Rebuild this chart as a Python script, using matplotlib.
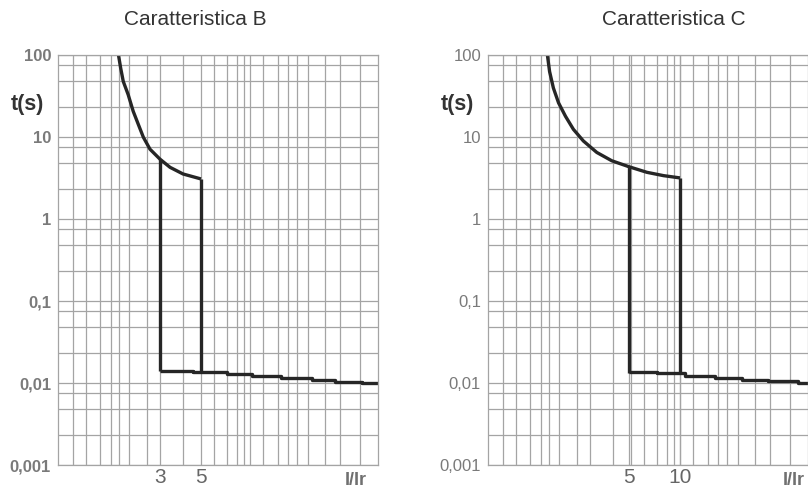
"""Tripping curves of MCBs, characteristic B and C (time vs I/Ir, log-log paper)."""
import matplotlib
matplotlib.use("Agg")
import matplotlib.pyplot as plt
import numpy as np
from matplotlib.ticker import NullFormatter

plt.rcParams["font.family"] = ["Liberation Sans", "DejaVu Sans"]

# --- data ----------------------------------------------------------------
# characteristic B: thermal curve down to the magnetic band 3..5 x Ir
B_CURVE_I = [1.79, 1.84, 1.90, 2.02, 2.15, 2.29, 2.44, 2.65, 3.0, 3.40, 4.0, 5.0]
B_CURVE_T = [100, 69.0, 47.6, 32.8, 20.6, 14.3, 9.93, 7.10, 5.37, 4.27, 3.54, 3.08]
B_LOW_I, B_HIGH_I = 3, 5
B_LOW_T = [5.37, 0.0142]     # vertical at 3 x Ir
B_HIGH_T = [3.08, 0.0137]    # vertical at 5 x Ir
B_FLOOR_I = [3, 4.55, 6.89, 9.38, 13.6, 19.8, 26.5, 36.9, 45.3]
B_FLOOR_T = [0.0142, 0.0137, 0.0130, 0.0122, 0.0115, 0.0109, 0.0104, 0.0100, 0.0100]

# characteristic C: magnetic band 5..10 x Ir
C_CURVE_I = [1.65, 1.70, 1.79, 1.92, 2.11, 2.35, 2.69, 3.23, 3.96, 5.0, 6.38, 7.99, 10.0]
C_CURVE_T = [100, 62.8, 39.6, 26.1, 17.9, 12.4, 8.95, 6.48, 5.13, 4.34, 3.71, 3.38, 3.17]
C_LOW_I, C_HIGH_I = 5, 10
C_LOW_T = [4.34, 0.0132]
C_HIGH_T = [3.17, 0.0127]
C_FLOOR_I = [5.0, 7.33, 10.7, 16.1, 23.2, 33.3, 50.0, 57.0]
C_FLOOR_T = [0.0135, 0.0131, 0.0123, 0.0115, 0.0110, 0.0105, 0.0100, 0.0100]

Y_TICKS = [100, 10, 1, 0.1, 0.01, 0.001]
Y_LABELS = ["100", "10", "1", "0,1", "0,01", "0,001"]

# printed paper: vertical rulings (in B-panel I/Ir units) and per-decade rulings
PAPER_X = [1.02, 1.19, 1.42, 1.63, 1.80, 2.04, 2.55, 3.0, 3.99, 5.0, 5.87, 6.9,
           7.82, 8.5, 9.18, 10.8, 13.0, 14.8, 16.5, 18.9, 23.4, 28.2, 36.2]
PAPER_Y_STEPS = [2.3, 4.8, 7.5]

B_XLIM = (0.843, 45.3)
C_XLIM = (0.736, 57.0)

GRID = "#a4a4a4"
INK = "#262626"
LABEL = "#7a7a7a"


def paper_rulings(xlim):
    """Same printed rulings, re-expressed in the panel's own I/Ir scale."""
    lo, hi = np.log10(B_XLIM)
    frac = (np.log10(PAPER_X) - lo) / (hi - lo)
    a, b = np.log10(xlim)
    return 10 ** (a + frac * (b - a))


def draw_panel(ax, title, title_x, unit_x, ylab_weight, xlim, curve, low, high,
               floor, xticks):
    ax.set_xscale("log")
    ax.set_yscale("log")
    ax.set_xlim(*xlim)
    ax.set_ylim(0.001, 100)

    minor_y = [s * 10.0 ** e for e in range(-3, 2) for s in PAPER_Y_STEPS]
    ax.set_xticks(paper_rulings(xlim), minor=True)
    ax.set_yticks(minor_y, minor=True)
    ax.xaxis.set_minor_formatter(NullFormatter())
    ax.yaxis.set_minor_formatter(NullFormatter())
    ax.set_xticks(xticks)
    ax.set_xticklabels([str(v) for v in xticks])
    ax.set_yticks(Y_TICKS)
    ax.set_yticklabels(Y_LABELS)
    ax.tick_params(which="both", length=0)
    ax.tick_params(axis="y", pad=5, labelsize=12, labelcolor=LABEL)
    ax.tick_params(axis="x", pad=2, labelsize=15, labelcolor="#666666")
    for lab in ax.get_yticklabels():
        lab.set_fontweight(ylab_weight)
    ax.grid(True, which="both", color=GRID, lw=0.9)
    ax.set_axisbelow(True)
    for sp in ax.spines.values():
        sp.set_color(GRID)
        sp.set_linewidth(0.9)

    kw = dict(color=INK, lw=2.4, solid_capstyle="butt", solid_joinstyle="round")
    ax.plot(*curve, **kw)
    ax.plot([low[0]] * 2, low[1], **kw)
    ax.plot([high[0]] * 2, high[1], **kw)
    ax.step(*floor, where="post", **kw)

    ax.text(title_x, 1.0 + 30 / 410, title, transform=ax.transAxes,
            ha="center", va="baseline", fontsize=15, color="#333333")
    ax.text(-0.095, 0.88, "t(s)", transform=ax.transAxes, ha="center",
            va="center", fontsize=15.5, fontweight="bold", color="#333333")
    ax.text(unit_x, -0.016, "I/Ir", transform=ax.transAxes, ha="center",
            va="top", fontsize=13, fontweight="bold", color="#707070")


def main():
    fig = plt.figure(figsize=(8.08, 4.88), dpi=100)
    h = 410 / 488
    b = 23 / 488
    ax_b = fig.add_axes([58 / 808, b, 320 / 808, h])
    ax_c = fig.add_axes([488 / 808, b, 320 / 808, h])

    draw_panel(ax_b, "Caratteristica B", 0.43, 0.93, "bold", B_XLIM,
               (B_CURVE_I, B_CURVE_T), (B_LOW_I, B_LOW_T), (B_HIGH_I, B_HIGH_T),
               (B_FLOOR_I, B_FLOOR_T), [B_LOW_I, B_HIGH_I])
    draw_panel(ax_c, "Caratteristica C", 0.58, 0.955, "normal", C_XLIM,
               (C_CURVE_I, C_CURVE_T), (C_LOW_I, C_LOW_T), (C_HIGH_I, C_HIGH_T),
               (C_FLOOR_I, C_FLOOR_T), [C_LOW_I, C_HIGH_I])

    fig.savefig("out.png", dpi=100)
    plt.close(fig)


if __name__ == "__main__":
    main()
